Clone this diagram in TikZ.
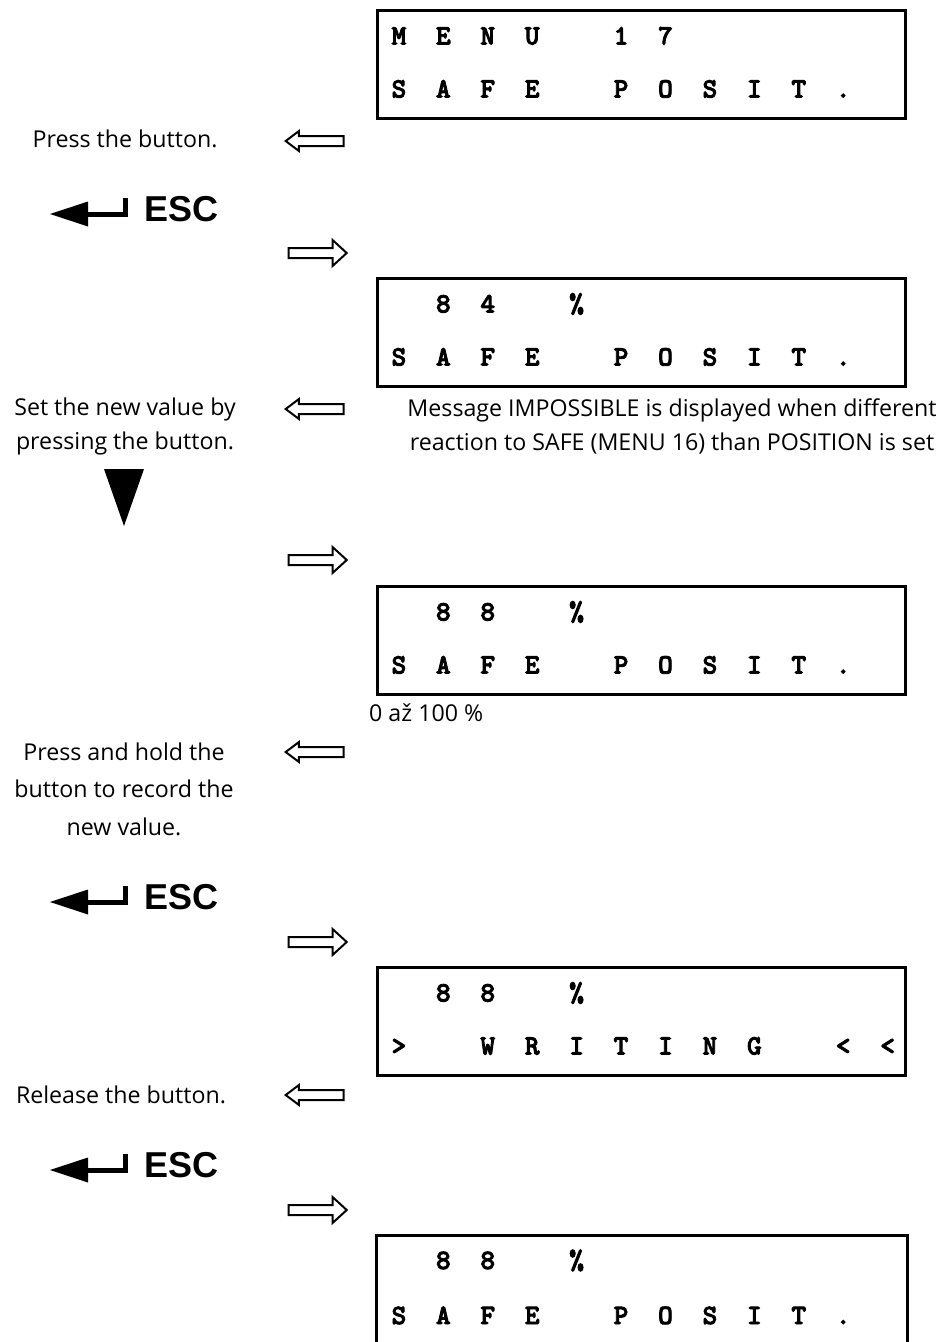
\documentclass[tikz,border=0pt]{standalone}
\usepackage{fontspec}
\setmainfont{Open Sans}
\newfontfamily\keyfont{Liberation Sans}
\newfontfamily\lcdfont{lmmonolt10-bold.otf}[FakeBold=3]
\usetikzlibrary{shapes.arrows}

\newcommand{\lcdcells}[1]{\foreach \lcdch in {#1}{\makebox[44.43pt]{\lcdch}}}

\begin{document}
\begin{tikzpicture}[
    x=1pt, y=-1pt,
    lcdbox/.style={rectangle, draw, line width=3pt, minimum width=528pt, minimum height=108pt, inner sep=0pt},
    lcdrow/.style={anchor=base west, inner sep=0pt, font=\fontsize{28}{28}\selectfont\lcdfont},
    hint/.style={align=center, inner sep=0pt, font=\fontsize{23.2}{34}\selectfont},
    backarrow/.style={single arrow, draw, line width=2pt, shape border rotate=180, minimum height=58pt, minimum width=18pt, inner sep=0pt, inner ysep=4pt, single arrow head extend=5pt, single arrow tip angle=74},
    fwdarrow/.style={single arrow, draw, line width=2pt, minimum height=58pt, minimum width=24pt, inner sep=0pt, inner ysep=4pt, single arrow head extend=8pt, single arrow tip angle=85},
    esckey/.style={inner sep=0pt, font=\fontsize{36}{36}\selectfont\keyfont\bfseries},
    enterstroke/.style={line width=5pt}
]
\useasboundingbox (0,0) rectangle (942,1342);

% Display: menu 17
\node[lcdbox] (lcd1) at (641.5,64.5) {};
\node[lcdrow] (r1a) at (376.5,44.5) {\lcdcells{M,E,N,U,{},1,7}};
\node[lcdrow] (r1b) at (376.5,97.5) {\lcdcells{S,A,F,E,{},P,O,S,I,T,.}};

% Step 1
\node[hint] (tx1) at (125,139) {Press the button.};
\node[backarrow] (back1) at (318,141) {};

% ESC keys
\foreach \n/\yy in {1/209, 2/897, 3/1165}{
  \begin{scope}[shift={(0,\yy)}]
    \node[esckey] (esc\n) at (181.5,0) {ESC};
    \fill (50,5) -- (88,-7.5) -- (88,17.5) -- cycle;
    \draw[enterstroke] (86,5) -- (125.5,5) -- (125.5,-11);
  \end{scope}
}

% Display: current value
\node[fwdarrow] (fwd1) at (315,253) {};
\node[lcdbox] (lcd2) at (641.5,332.5) {};
\node[lcdrow] (r2a) at (376.5,312.5) {\lcdcells{{},8,4,{},\%}};
\node[lcdrow] (r2b) at (376.5,365.5) {\lcdcells{S,A,F,E,{},P,O,S,I,T,.}};

% Step 2
\node[hint] (tx2) at (125,426) {Set the new value by\\pressing the button.};
\node[backarrow] (back2) at (318,409) {};
\node[hint] (note) at (672,426) {Message IMPOSSIBLE is displayed when different\\reaction to SAFE (MENU 16) than POSITION is set};
\fill (104,469) -- (144,469) -- (124,526) -- cycle;

% Display: new value
\node[fwdarrow] (fwd2) at (315,560) {};
\node[lcdbox] (lcd3) at (641.5,640.5) {};
\node[lcdrow] (r3a) at (376.5,620.5) {\lcdcells{{},8,8,{},\%}};
\node[lcdrow] (r3b) at (376.5,673.5) {\lcdcells{S,A,F,E,{},P,O,S,I,T,.}};
\node[hint, anchor=west] (range) at (369,713) {0 až 100 \%};

% Step 3
\node[hint, font=\fontsize{23.2}{37.5}\selectfont] (tx3) at (124,789) {Press and hold the\\button to record the\\new value.};
\node[backarrow] (back3) at (318,752) {};

% Display: writing
\node[fwdarrow] (fwd3) at (315,942) {};
\node[lcdbox] (lcd4) at (641.5,1021.5) {};
\node[lcdrow] (r4a) at (376.5,1001.5) {\lcdcells{{},8,8,{},\%}};
\node[lcdrow] (r4b) at (376.5,1054.5) {\lcdcells{>,{},W,R,I,T,I,N,G,{},<,<}};

% Step 4
\node[hint] (tx4) at (121,1095) {Release the button.};
\node[backarrow] (back4) at (318,1095) {};

% Display: saved
\node[fwdarrow] (fwd4) at (315,1210) {};
\node[lcdbox, draw=none, minimum height=105.5pt] (lcd5) at (641.5,1289.25) {};
\draw[line width=3pt] (lcd5.south west) |- (lcd5.north east) -- (lcd5.south east);
\node[lcdrow] (r5a) at (376.5,1269) {\lcdcells{{},8,8,{},\%}};
\node[lcdrow] (r5b) at (376.5,1324) {\lcdcells{S,A,F,E,{},P,O,S,I,T,.}};

\end{tikzpicture}
\end{document}
